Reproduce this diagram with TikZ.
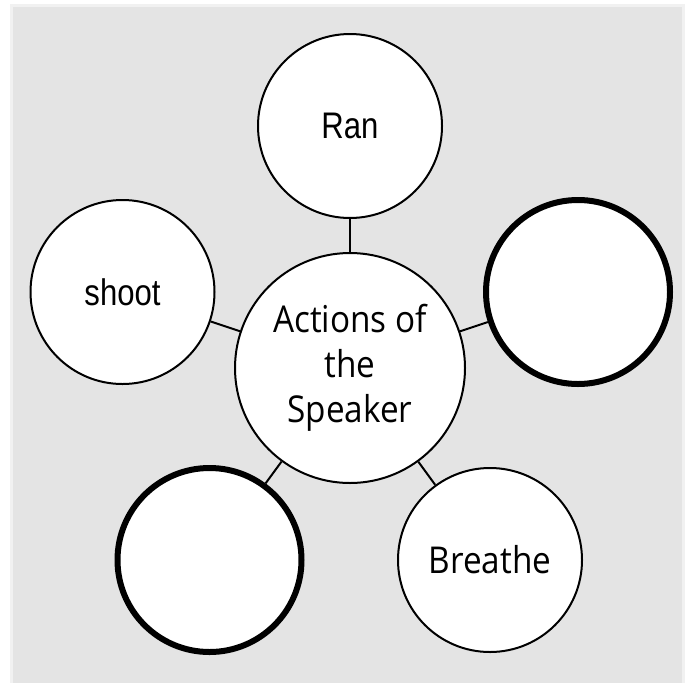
\documentclass[tikz,border=0pt]{standalone}
\usepackage{fontspec}
\setmainfont[FakeStretch=0.9]{Open Sans}
\newfontfamily\arialish[FakeStretch=0.84]{Liberation Sans}
\definecolor{panelgray}{HTML}{E4E4E4}
\definecolor{panelrim}{HTML}{F1F1F1}
\begin{document}
\begin{tikzpicture}[x=1pt,y=-1pt,
  bubble/.style={circle,draw=black,fill=white,line width=2pt,minimum size=184pt,inner sep=0pt,align=center},
  thickbubble/.style={bubble,line width=6pt},
  hub/.style={bubble,minimum size=230pt},
  link/.style={draw=black,line width=2pt},
  arialtext/.style={font=\arialish\fontsize{37}{43}\selectfont},
  segtext/.style={font=\fontsize{37}{45}\selectfont}]
\useasboundingbox (0,0) rectangle (690,683);
\fill[panelrim] (10,4) rectangle (685,683);
\fill[panelgray] (13,7) rectangle (682,683);
\node[hub,segtext] (c) at (350,368) {Actions of\\the\\Speaker};
\node[bubble,arialtext] (ran) at (350,126) {Ran};
\node[thickbubble] (r) at (578,292) {};
\node[bubble,segtext] (br) at (490,560) {Breathe};
\node[thickbubble] (bl) at (209.5,560) {};
\node[bubble,arialtext] (sh) at (122.5,292) {shoot};
\draw[link] (c) -- (ran);
\draw[link] (c) -- (r);
\draw[link] (c) -- (br);
\draw[link] (c) -- (bl);
\draw[link] (c) -- (sh);
\end{tikzpicture}
\end{document}
